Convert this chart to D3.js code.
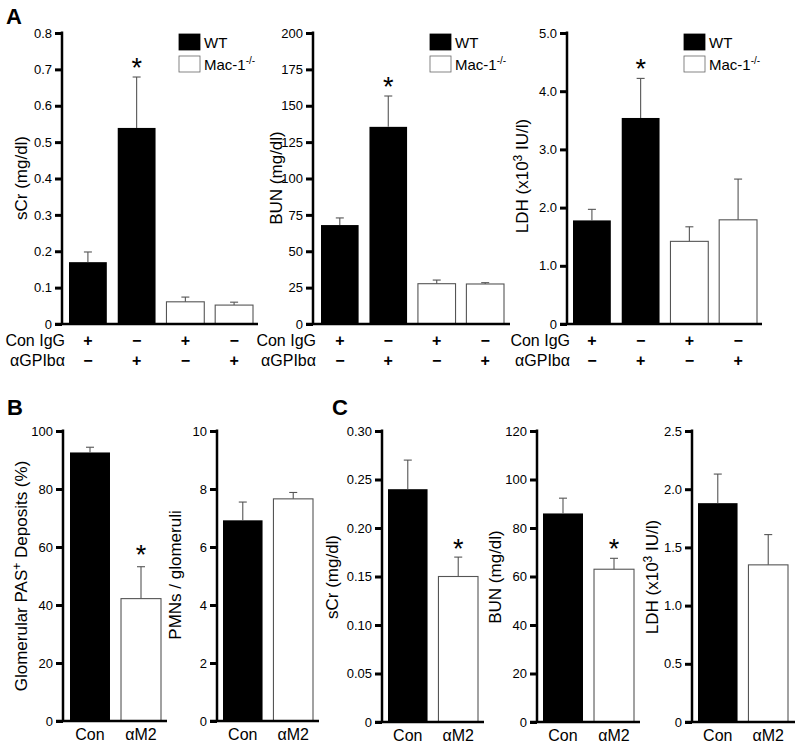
<!DOCTYPE html>
<html><head><meta charset="utf-8">
<script src="https://cdn.jsdelivr.net/npm/d3@7"></script>
<style>
body{margin:0;background:#fff}
text{font-family:"Liberation Sans",Arial,Helvetica,sans-serif;fill:#000}
</style>
</head><body>
<svg id="chart" width="800" height="747"></svg>
<script>
// ---------------- Panel A data ----------------
const aConIgG = ["+", "−", "+", "−"];
const aGPIba  = ["−", "+", "−", "+"];
const aGroups = ["WT", "WT", "Mac-1", "Mac-1"];
const aSCr     = [0.170, 0.539, 0.061, 0.052];
const aSCrErr  = [0.028, 0.140, 0.013, 0.008];
const aBUN     = [68.0, 135.5, 27.7, 27.5];
const aBUNErr  = [4.9, 21.2, 2.5, 0.9];
const aLDH     = [1.78, 3.54, 1.42, 1.79];
const aLDHErr  = [0.19, 0.68, 0.25, 0.70];
const aSig     = [false, true, false, false];
const aTicksSCr = [0, 0.1, 0.2, 0.3, 0.4, 0.5, 0.6, 0.7, 0.8];
const aTicksBUN = [0, 25, 50, 75, 100, 125, 150, 175, 200];
const aTicksLDH = [0, 1, 2, 3, 4, 5];
const legendLabels = ["WT", "Mac-1"];

// ---------------- Panel B / C data ----------------
const bcCategories = ["Con", "αM2"];
const bcGroups = ["WT", "Mac-1"];
const bPAS    = [92.6, 42.2];
const bPASErr = [1.8, 11.0];
const bPAS_sig = [false, true];
const bPMN    = [6.92, 7.66];
const bPMNErr = [0.63, 0.22];
const bPMN_sig = [false, false];
const cSCr    = [0.240, 0.150];
const cSCrErr = [0.030, 0.020];
const cSCr_sig = [false, true];
const cBUN    = [86.0, 63.0];
const cBUNErr = [6.3, 4.5];
const cBUN_sig = [false, true];
const cLDH    = [1.88, 1.35];
const cLDHErr = [0.25, 0.26];
const cLDH_sig = [false, false];
const bTicksPAS = [0, 20, 40, 60, 80, 100];
const bTicksPMN = [0, 2, 4, 6, 8, 10];
const cTicksSCr = [0, 0.05, 0.10, 0.15, 0.20, 0.25, 0.30];
const cTicksBUN = [0, 20, 40, 60, 80, 100, 120];
const cTicksLDH = [0, 0.5, 1.0, 1.5, 2.0, 2.5];

const svg = d3.select("#chart");
const FONT = '"Liberation Sans",Arial,Helvetica,sans-serif';

function fill(g){ return g === "WT" ? "#000" : "#fff"; }

function drawPanel(o){
  const g = svg.append("g");
  const y = d3.scaleLinear().domain([0, o.max]).range([o.bottom, o.top]);
  const x = d3.scaleBand().domain(d3.range(o.values.length))
      .range([o.barStart, o.barEnd]).paddingInner(o.padIn).paddingOuter(0);

  // bars
  g.selectAll("rect.bar").data(o.values).join("rect")
    .attr("class","bar")
    .attr("x", (d,i)=>x(i)).attr("width", x.bandwidth())
    .attr("y", d=>y(d)).attr("height", d=>o.bottom - y(d))
    .attr("fill", (d,i)=>fill(o.groups[i]))
    .attr("stroke", (d,i)=> o.groups[i]==="WT" ? "none" : "#555")
    .attr("stroke-width", 1.1);

  // error bars
  o.values.forEach((v,i)=>{
    const cx = x(i) + x.bandwidth()/2;
    const top = y(v + o.errs[i]);
    g.append("line").attr("x1",cx).attr("x2",cx).attr("y1",y(v)).attr("y2",top)
      .attr("stroke","#555").attr("stroke-width",1.1);
    g.append("line").attr("x1",cx-4).attr("x2",cx+4).attr("y1",top).attr("y2",top)
      .attr("stroke","#555").attr("stroke-width",1.1);
    if (o.sig[i]) {
      g.append("text").attr("x",cx).attr("y",top - o.starGap + 15.5)
        .attr("text-anchor","middle").style("font-size","27px").text("*");
    }
  });

  // y axis
  const ax = d3.axisLeft(y).tickValues(o.ticks).tickSize(7).tickSizeOuter(0)
    .tickPadding(3).tickFormat(d => d===0 ? "0" : d3.format(o.fmt)(d));
  const ag = g.append("g").attr("transform",`translate(${o.axisX},0)`).call(ax);
  ag.select(".domain").remove();
  ag.selectAll(".tick line").attr("stroke","#000").attr("stroke-width",3);
  ag.selectAll(".tick text").style("font-size","13px").style("font-family",FONT).attr("fill","#000");
  g.append("line").attr("x1",o.axisX).attr("x2",o.axisX).attr("y1",o.top-1.5).attr("y2",o.bottom)
    .attr("stroke","#000").attr("stroke-width",2.5);
  // x axis baseline
  g.append("line").attr("x1",o.axisX-7).attr("x2",o.axisEnd).attr("y1",o.bottom).attr("y2",o.bottom)
    .attr("stroke","#000").attr("stroke-width",2.5);

  // y label
  const yl = g.append("text")
    .attr("transform",`translate(${o.ylx},${o.yly}) rotate(-90)`)
    .attr("text-anchor","middle").style("font-size","17px");
  o.ylabel.forEach(p=>{
    const t = yl.append("tspan").text(p.t);
    if (p.sup) t.attr("dy","-6").style("font-size","12px");
    if (p.after) t.attr("dy","6");
  });

  // category labels
  if (o.categories) {
    g.selectAll("text.cat").data(o.categories).join("text")
      .attr("class","cat")
      .attr("x",(d,i)=>x(i)+x.bandwidth()/2).attr("y",o.bottom+19)
      .attr("text-anchor","middle").style("font-size","16px").text(d=>d);
  }
  if (o.rows) {
    o.rows.forEach(r=>{
      g.append("text").attr("x",o.axisX+3).attr("y",r.y).attr("text-anchor","end")
        .style("font-size","16px").text(r.label);
      g.selectAll(null).data(r.vals).join("text")
        .attr("x",(d,i)=>x(i)+x.bandwidth()/2).attr("y",r.y)
        .attr("text-anchor","middle").style("font-size","16px").style("font-weight","bold").text(d=>d);
    });
  }
  if (o.legend) {
    const lx = o.axisX + 117;
    legendLabels.forEach((lab,i)=>{
      const ly = 34 + i*22;
      g.append("rect").attr("x",lx).attr("y",ly).attr("width",21).attr("height",16)
        .attr("fill",fill(lab)).attr("stroke", lab==="WT" ? "#000" : "#666").attr("stroke-width",0.8);
      const t = g.append("text").attr("x",lx+25).attr("y",ly+14).style("font-size","15px");
      t.append("tspan").text(lab);
      if (lab !== "WT") t.append("tspan").attr("dy","-6").style("font-size","10px").text("-/-");
    });
  }
}

const rowsA = [{label:"Con IgG", vals:aConIgG, y:346},{label:"αGPIbα", vals:aGPIba, y:366}];

drawPanel({axisX:62, axisEnd:258, top:33, bottom:324, barStart:69, barEnd:253, padIn:0.224,
  max:0.8, ticks:aTicksSCr, fmt:".1f", values:aSCr, errs:aSCrErr, groups:aGroups, sig:aSig, starGap:16,
  ylabel:[{t:"sCr (mg/dl)"}], ylx:27, yly:178, rows:rowsA, legend:true});
drawPanel({axisX:313, axisEnd:510, top:33, bottom:324, barStart:321, barEnd:504, padIn:0.224,
  max:200, ticks:aTicksBUN, fmt:"d", values:aBUN, errs:aBUNErr, groups:aGroups, sig:aSig, starGap:16,
  ylabel:[{t:"BUN (mg/dl)"}], ylx:282, yly:178, rows:rowsA, legend:true});
drawPanel({axisX:567, axisEnd:762, top:33, bottom:324, barStart:573, barEnd:757, padIn:0.224,
  max:5, ticks:aTicksLDH, fmt:".1f", values:aLDH, errs:aLDHErr, groups:aGroups, sig:aSig, starGap:16,
  ylabel:[{t:"LDH (x10"},{t:"3",sup:true},{t:" IU/l)",after:true}], ylx:528, yly:176, rows:rowsA, legend:true});

drawPanel({axisX:63, axisEnd:167, top:431, bottom:721, barStart:70, barEnd:161, padIn:0.216,
  max:100, ticks:bTicksPAS, fmt:"d", values:bPAS, errs:bPASErr, groups:bcGroups, sig:bPAS_sig, starGap:18,
  ylabel:[{t:"Glomerular PAS"},{t:"+",sup:true},{t:" Deposits (%)",after:true}], ylx:27, yly:576, categories:bcCategories});
drawPanel({axisX:217, axisEnd:319, top:431, bottom:721, barStart:223, barEnd:313, padIn:0.216,
  max:10, ticks:bTicksPMN, fmt:"d", values:bPMN, errs:bPMNErr, groups:bcGroups, sig:bPMN_sig, starGap:16,
  ylabel:[{t:"PMNs / glomeruli"}], ylx:181, yly:575, categories:bcCategories});
drawPanel({axisX:382, axisEnd:484, top:431, bottom:722, barStart:388, barEnd:478, padIn:0.216,
  max:0.30, ticks:cTicksSCr, fmt:".2f", values:cSCr, errs:cSCrErr, groups:bcGroups, sig:cSCr_sig, starGap:15,
  ylabel:[{t:"sCr (mg/dl)"}], ylx:338, yly:577, categories:bcCategories});
drawPanel({axisX:537, axisEnd:640, top:431, bottom:722, barStart:543, barEnd:634, padIn:0.216,
  max:120, ticks:cTicksBUN, fmt:"d", values:cBUN, errs:cBUNErr, groups:bcGroups, sig:cBUN_sig, starGap:16,
  ylabel:[{t:"BUN (mg/dl)"}], ylx:501, yly:577, categories:bcCategories});
drawPanel({axisX:692, axisEnd:795, top:431, bottom:722, barStart:698, barEnd:788, padIn:0.216,
  max:2.5, ticks:cTicksLDH, fmt:".1f", values:cLDH, errs:cLDHErr, groups:bcGroups, sig:cLDH_sig, starGap:16,
  ylabel:[{t:"LDH (x10"},{t:"3",sup:true},{t:" IU/l)",after:true}], ylx:658, yly:577, categories:bcCategories});

// panel letters
[["A",6,24],["B",7,415],["C",332,415]].forEach(([t,x,yy])=>{
  svg.append("text").attr("x",x).attr("y",yy).style("font-size","22px").style("font-weight","bold").text(t);
});
</script>
</body></html>
